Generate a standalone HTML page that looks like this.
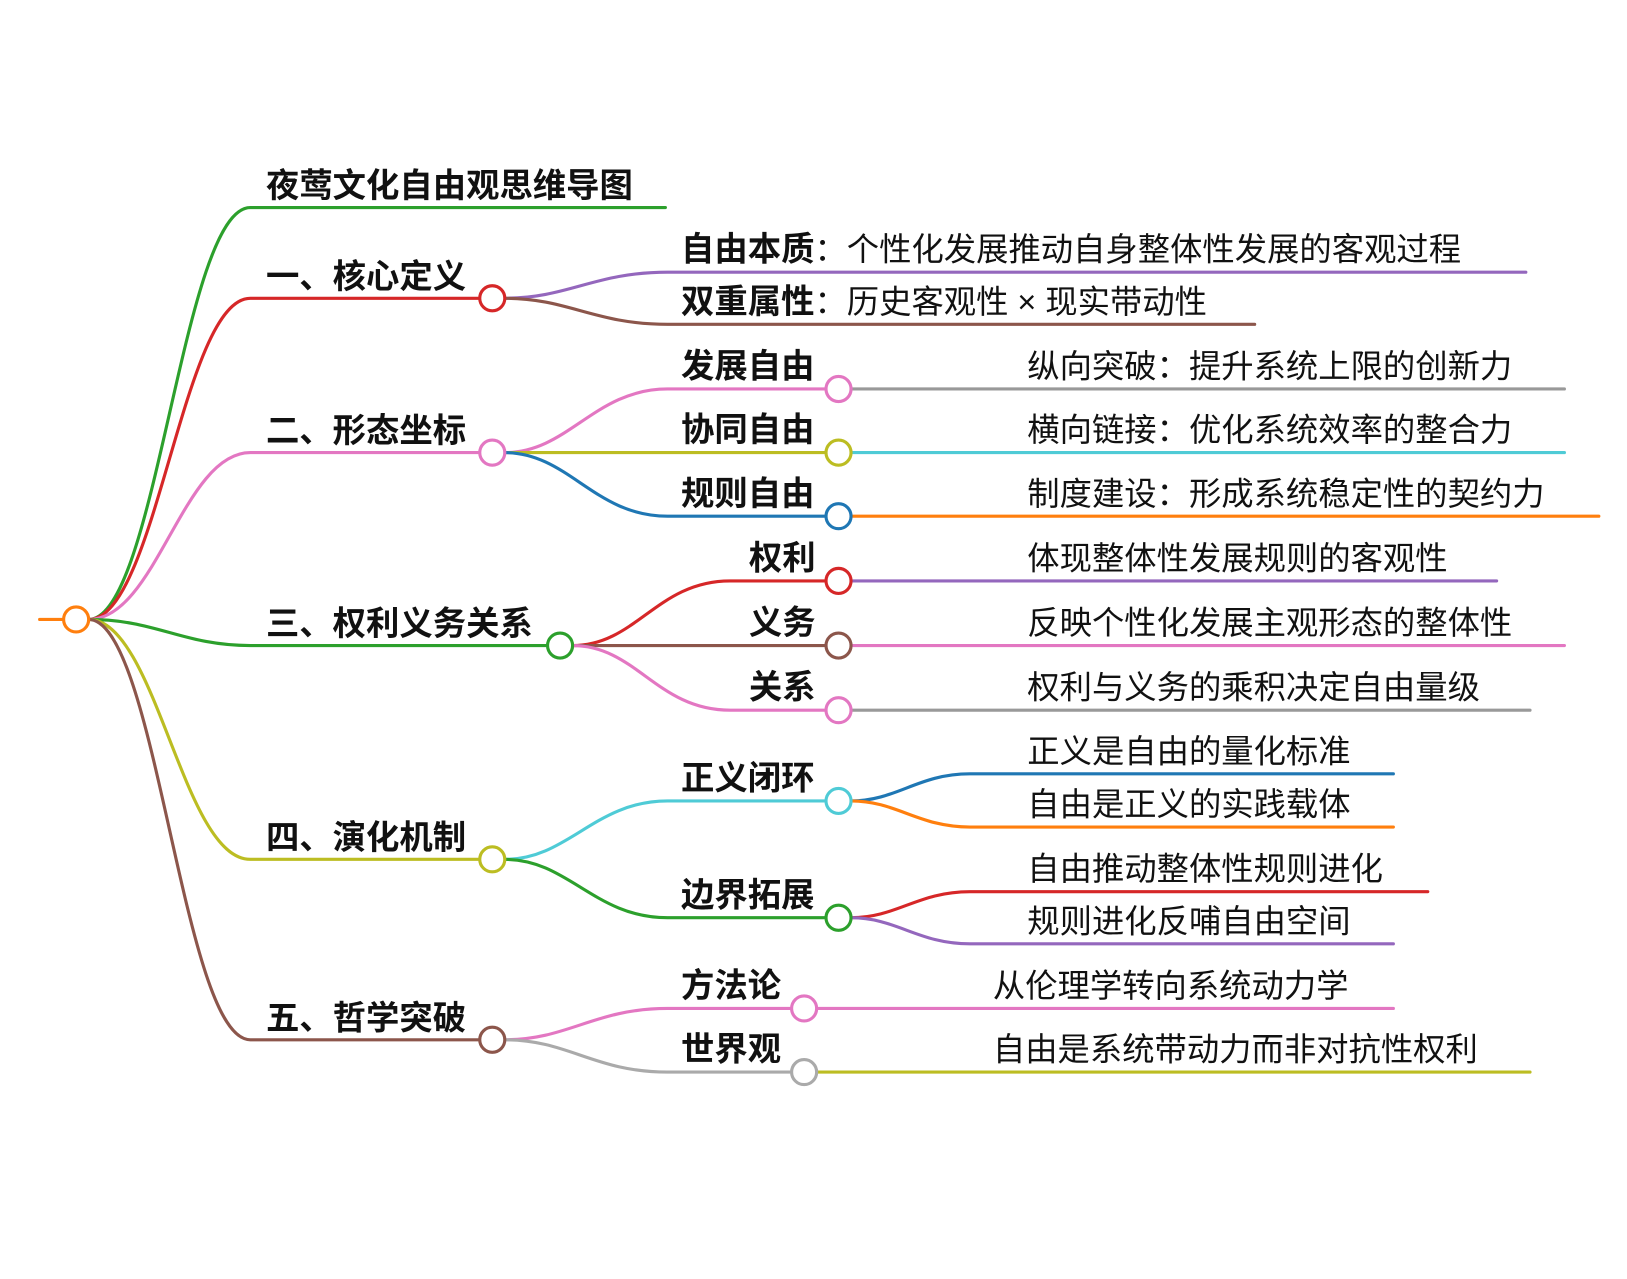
<!DOCTYPE html>
<html><head><meta charset="utf-8"><style>
html,body{margin:0;padding:0;background:#fff;}
svg{display:block;}
text{font-family:"Liberation Sans","Noto Sans CJK SC",sans-serif;font-size:31px;fill:#111;}
.b{font-weight:bold;font-size:32px;}
path,line{fill:none;stroke-width:3;stroke-linecap:round;}
circle{fill:#fff;stroke-width:3;}
</style></head><body>
<svg width="1627" height="1279" viewBox="0 0 1560 1226.4" preserveAspectRatio="none" xmlns="http://www.w3.org/2000/svg">
<path d="M85 594 C150 594 175 199 240 199 L638 199" stroke="#2ca02c"/>
<path d="M85 594 C150 594 175 286 240 286 L460 286" stroke="#d62728"/>
<path d="M85 594 C150 594 175 434 240 434 L460 434" stroke="#e377c2"/>
<path d="M85 594 C150 594 175 619 240 619 L525 619" stroke="#2ca02c"/>
<path d="M85 594 C150 594 175 824 240 824 L460 824" stroke="#bcbd22"/>
<path d="M85 594 C150 594 175 997 240 997 L460 997" stroke="#8c564b"/>
<line x1="38" y1="594" x2="61" y2="594" stroke="#ff7f0e"/>
<circle cx="73" cy="594" r="12" stroke="#ff7f0e"/>

<text class="b" x="255" y="189">夜莺文化自由观思维导图</text>
<text class="b" x="255" y="276">一、核心定义</text>
<text class="b" x="255" y="424">二、形态坐标</text>
<text class="b" x="255" y="609">三、权利义务关系</text>
<text class="b" x="255" y="814">四、演化机制</text>
<text class="b" x="255" y="987">五、哲学突破</text>

<path d="M484 286 C545 286 570 261 640 261 L1463 261" stroke="#9467bd"/>
<path d="M484 286 C545 286 570 311 640 311 L1203 311" stroke="#8c564b"/>
<circle cx="472" cy="286" r="12" stroke="#d62728"/>
<text x="653" y="250"><tspan class="b">自由本质</tspan>：个性化发展推动自身整体性发展的客观过程</text>
<text x="653" y="300"><tspan class="b">双重属性</tspan>：历史客观性 × 现实带动性</text>

<path d="M484 434 C545 434 570 373 640 373 L792 373" stroke="#e377c2"/>
<path d="M484 434 L792 434" stroke="#bcbd22"/>
<path d="M484 434 C545 434 570 495 640 495 L792 495" stroke="#1f77b4"/>
<circle cx="472" cy="434" r="12" stroke="#e377c2"/>
<line x1="816" y1="373" x2="1500" y2="373" stroke="#999"/>
<line x1="816" y1="434" x2="1500" y2="434" stroke="#4fcbd6"/>
<line x1="816" y1="495" x2="1533" y2="495" stroke="#ff7f0e"/>
<circle cx="804" cy="373" r="12" stroke="#e377c2"/>
<circle cx="804" cy="434" r="12" stroke="#bcbd22"/>
<circle cx="804" cy="495" r="12" stroke="#1f77b4"/>
<text class="b" x="653" y="362">发展自由</text>
<text class="b" x="653" y="423">协同自由</text>
<text class="b" x="653" y="484">规则自由</text>
<text x="985" y="362">纵向突破：提升系统上限的创新力</text>
<text x="985" y="423">横向链接：优化系统效率的整合力</text>
<text x="985" y="484">制度建设：形成系统稳定性的契约力</text>

<path d="M549 619 C610 619 630 557 700 557 L792 557" stroke="#d62728"/>
<path d="M549 619 L792 619" stroke="#8c564b"/>
<path d="M549 619 C610 619 630 681 700 681 L792 681" stroke="#e377c2"/>
<circle cx="537" cy="619" r="12" stroke="#2ca02c"/>
<line x1="816" y1="557" x2="1435" y2="557" stroke="#9467bd"/>
<line x1="816" y1="619" x2="1500" y2="619" stroke="#e377c2"/>
<line x1="816" y1="681" x2="1467" y2="681" stroke="#999"/>
<circle cx="804" cy="557" r="12" stroke="#d62728"/>
<circle cx="804" cy="619" r="12" stroke="#8c564b"/>
<circle cx="804" cy="681" r="12" stroke="#e377c2"/>
<text class="b" x="782" y="546" text-anchor="end">权利</text>
<text class="b" x="782" y="608" text-anchor="end">义务</text>
<text class="b" x="782" y="670" text-anchor="end">关系</text>
<text x="985" y="546">体现整体性发展规则的客观性</text>
<text x="985" y="608">反映个性化发展主观形态的整体性</text>
<text x="985" y="670">权利与义务的乘积决定自由量级</text>

<path d="M484 824 C545 824 570 768 640 768 L792 768" stroke="#4fcbd6"/>
<path d="M484 824 C545 824 570 880 640 880 L792 880" stroke="#2ca02c"/>
<circle cx="472" cy="824" r="12" stroke="#bcbd22"/>
<path d="M816 768 C860 768 880 742 930 742 L1336 742" stroke="#1f77b4"/>
<path d="M816 768 C860 768 880 793 930 793 L1336 793" stroke="#ff7f0e"/>
<path d="M816 880 C860 880 880 855 930 855 L1369 855" stroke="#d62728"/>
<path d="M816 880 C860 880 880 905 930 905 L1336 905" stroke="#9467bd"/>
<circle cx="804" cy="768" r="12" stroke="#4fcbd6"/>
<circle cx="804" cy="880" r="12" stroke="#2ca02c"/>
<text class="b" x="653" y="757">正义闭环</text>
<text class="b" x="653" y="869">边界拓展</text>
<text x="985" y="731">正义是自由的量化标准</text>
<text x="985" y="782">自由是正义的实践载体</text>
<text x="985" y="844">自由推动整体性规则进化</text>
<text x="985" y="894">规则进化反哺自由空间</text>

<path d="M484 997 C545 997 570 967 640 967 L759 967" stroke="#e377c2"/>
<path d="M484 997 C545 997 570 1028 640 1028 L759 1028" stroke="#aaa"/>
<circle cx="472" cy="997" r="12" stroke="#8c564b"/>
<line x1="783" y1="967" x2="1336" y2="967" stroke="#e377c2"/>
<line x1="783" y1="1028" x2="1467" y2="1028" stroke="#bcbd22"/>
<circle cx="771" cy="967" r="12" stroke="#e377c2"/>
<circle cx="771" cy="1028" r="12" stroke="#aaa"/>
<text class="b" x="653" y="956">方法论</text>
<text class="b" x="653" y="1017">世界观</text>
<text x="952" y="956">从伦理学转向系统动力学</text>
<text x="952" y="1017">自由是系统带动力而非对抗性权利</text>
</svg>
</body></html>
